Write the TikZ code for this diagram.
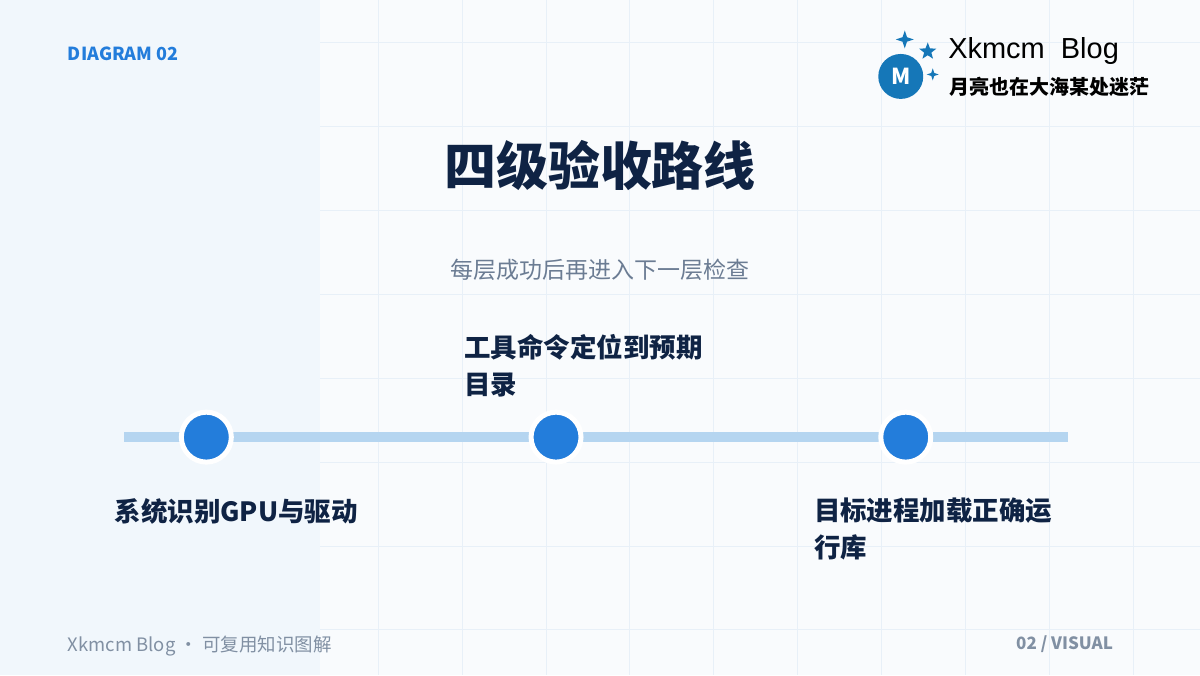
\documentclass[tikz,border=0pt]{standalone}
\usepackage{fontspec}
\setmainfont{Noto Sans CJK SC}
\newfontfamily\cjk{Noto Sans CJK SC}
\newfontfamily\latin{Liberation Sans}
\usetikzlibrary{positioning,calc}
\definecolor{bgpage}{HTML}{F9FBFD}
\definecolor{bgpanel}{HTML}{F1F7FC}
\definecolor{gridc}{HTML}{E8F0F8}
\definecolor{navy}{HTML}{0F2344}
\definecolor{accent}{HTML}{237DDB}
\definecolor{railc}{HTML}{B5D5F0}
\definecolor{greyc}{HTML}{6B7C93}
\definecolor{logoc}{HTML}{1577B8}
\tikzset{
	stepnode/.style={circle, fill=accent, draw=white, line width=5pt, minimum size=50pt, inner sep=0pt},
	steplabel/.style={font=\cjk\bfseries\fontsize{26.5}{37}\selectfont, text=navy, align=left, inner sep=0pt},
	rail/.style={draw=railc, line width=10pt}
}
\newcommand{\sparkle}[2]{% centre, radius
	\fill[logoc] ($#1+(0,-#2)$) -- ($#1+(0.25*#2,-0.25*#2)$) -- ($#1+(#2,0)$) -- ($#1+(0.25*#2,0.25*#2)$)
	-- ($#1+(0,#2)$) -- ($#1+(-0.25*#2,0.25*#2)$) -- ($#1+(-#2,0)$) -- ($#1+(-0.25*#2,-0.25*#2)$) -- cycle;}
\begin{document}
\begin{tikzpicture}[x=1pt,y=-1pt]
		\fill[bgpage] (0,0) rectangle (1200,675);
		\foreach \g in {42,126,...,1200} \draw[gridc, line width=1pt] (\g,0) -- (\g,675);
		\foreach \g in {42,126,...,675} \draw[gridc, line width=1pt] (0,\g) -- (1200,\g);
		\fill[bgpanel] (0,0) rectangle (320,675);
		\useasboundingbox (0,0) rectangle (1200,675);
		
		\node[anchor=west, text=accent, font=\bfseries\fontsize{18}{20}\selectfont] (tag) at (64,53) {DIAGRAM 02};
		% logo
		\node[circle, fill=logoc, minimum size=45pt, inner sep=0pt, text=white, font=\bfseries\fontsize{22}{22}\selectfont] (logo) at (901,76) {M};
		\sparkle{(905,39)}{9}
		\sparkle{(933,74)}{6}
		\fill[logoc] ($(928,51)+(90:-9)$) \foreach \a in {1,...,4} {-- ($(928,51)+(90+36*\a*2-36:-3.8)$) -- ($(928,51)+(90+72*\a:-9)$)} -- ($(928,51)+(90+36*9:-3.8)$) -- cycle;
		\node[anchor=west, text=black, font=\latin\fontsize{29}{30}\selectfont] (brand) at (945,51) {Xkmcm\ \ Blog};
		\node[anchor=west, text=black, font=\bfseries\fontsize{20}{22}\selectfont] (motto) at (946,86) {月亮也在大海某处迷茫};
		
		\node[text=navy, font=\bfseries\fontsize{52}{54}\selectfont] (title) at (600,165) {四级验收路线};
		\node[text=greyc, font=\fontsize{23}{26}\selectfont] (sub) at (600,270) {每层成功后再进入下一层检查};
		
		\coordinate (railL) at (124,437);
		\coordinate (railR) at (1068,437);
		\draw[rail] (railL) -- (railR);
		\node[stepnode] (n1) at (206,437) {};
		\node[stepnode] (n2) at (556,437) {};
		\node[stepnode] (n3) at (906,437) {};
		
		\node[steplabel, anchor=north west] (l1) at (114,498) {系统识别GPU与驱动};
		\node[steplabel, anchor=north west] (l2) at (464,334) {工具命令定位到预期\\目录};
		\node[steplabel, anchor=north west] (l3) at (814,498) {目标进程加载正确运\\行库};
		
		\node[anchor=west, text=greyc!85, font=\fontsize{18.5}{20}\selectfont] (foot) at (64,646) {Xkmcm Blog · 可复用知识图解};
		\node[anchor=east, text=greyc!85, font=\bfseries\fontsize{17}{20}\selectfont] (page) at (1117,644) {02 / VISUAL};
	\end{tikzpicture}
\end{document}
